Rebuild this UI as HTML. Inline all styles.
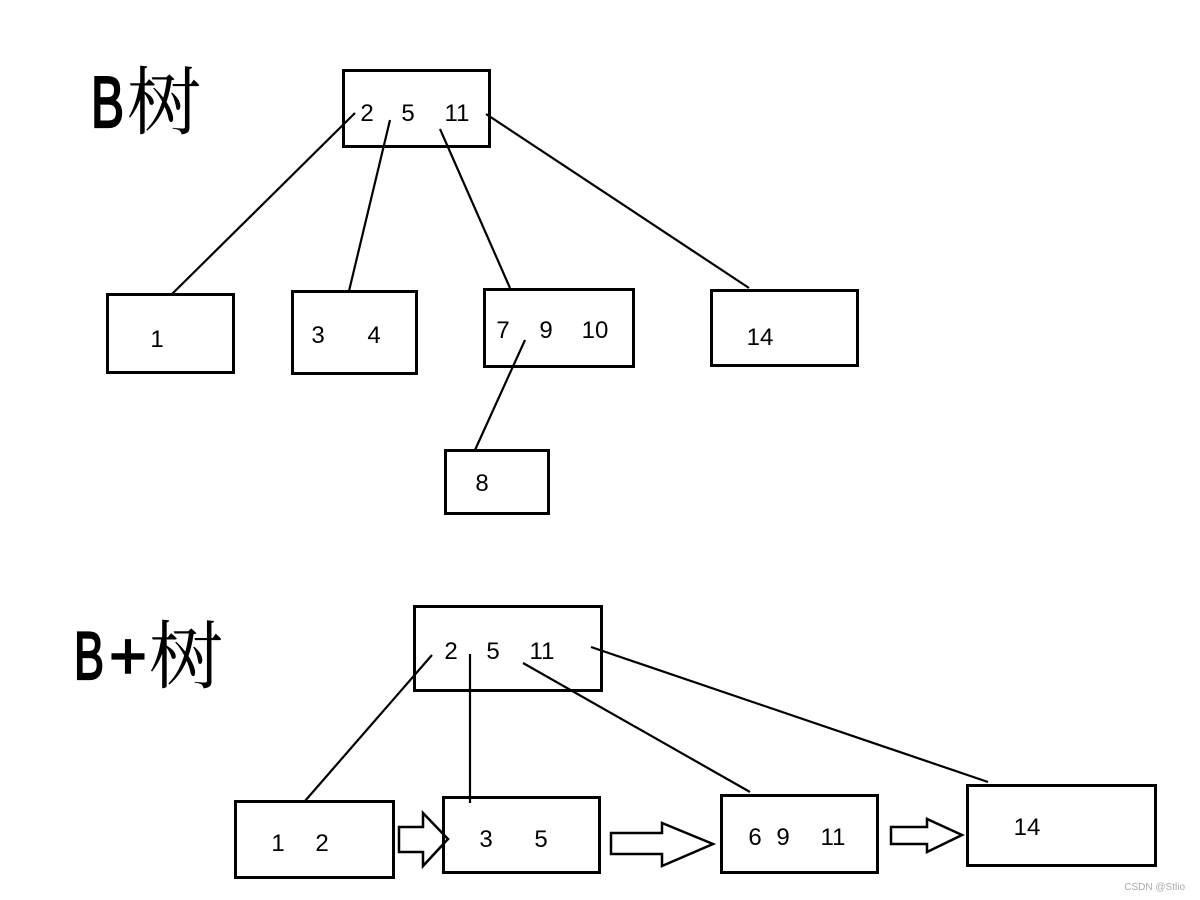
<!DOCTYPE html>
<html><head><meta charset="utf-8"><style>
html,body{margin:0;padding:0;background:#fff;}
svg{display:block;}
.n{font-family:"Liberation Sans",Arial,sans-serif;font-size:24px;fill:#000;text-anchor:middle;}
</style></head><body>
<svg width="1200" height="900" viewBox="0 0 1200 900" xmlns="http://www.w3.org/2000/svg">
<rect width="1200" height="900" fill="#fff"/>
<!-- Titles -->
<text x="91" y="127" font-family="Liberation Sans, sans-serif" font-size="72" textLength="33" lengthAdjust="spacingAndGlyphs" stroke="#000" stroke-width="2.2">B</text>
<text x="127" y="128" font-family="Noto Serif CJK SC, serif" font-size="74">树</text>
<text x="74" y="679" font-family="Liberation Sans, sans-serif" font-size="68" textLength="30" lengthAdjust="spacingAndGlyphs" stroke="#000" stroke-width="2.2">B</text>
<text x="109" y="679" font-family="Liberation Sans, sans-serif" font-size="68" textLength="38" lengthAdjust="spacingAndGlyphs" stroke="#000" stroke-width="1.5">+</text>
<text x="149" y="682" font-family="Noto Serif CJK SC, serif" font-size="74">树</text>

<g fill="none" stroke="#000" stroke-width="3">
<!-- B tree boxes -->
<rect x="343.5" y="70.5" width="146" height="76"/>
<rect x="107.5" y="294.5" width="126" height="78"/>
<rect x="292.5" y="291.5" width="124" height="82"/>
<rect x="484.5" y="289.5" width="149" height="77"/>
<rect x="711.5" y="290.5" width="146" height="75"/>
<rect x="445.5" y="450.5" width="103" height="63"/>
<!-- B+ tree boxes -->
<rect x="414.5" y="606.5" width="187" height="84"/>
<rect x="235.5" y="801.5" width="158" height="76"/>
<rect x="443.5" y="797.5" width="156" height="75"/>
<rect x="721.5" y="795.5" width="156" height="77"/>
<rect x="967.5" y="785.5" width="188" height="80"/>
<!-- arrows -->
<polygon points="399,827 423,827 423,813 448,839 423,866 423,852 399,852" stroke-width="2.5"/>
<polygon points="611,833 662,833 662,823 713,844 662,866 662,854 611,854" stroke-width="2.5"/>
<polygon points="891,827 927,827 927,819 962,835 927,852 927,844 891,844" stroke-width="2.5"/>
</g>

<g stroke="#000" stroke-width="2.2" fill="none">
<line x1="355" y1="113" x2="172" y2="294"/>
<line x1="390" y1="120" x2="349" y2="291"/>
<line x1="440" y1="129" x2="510" y2="288"/>
<line x1="486" y1="114" x2="749" y2="288"/>
<line x1="525" y1="340" x2="475" y2="450"/>
<line x1="432" y1="655" x2="305" y2="801"/>
<line x1="470" y1="654" x2="470" y2="803"/>
<line x1="523" y1="663" x2="750" y2="792"/>
<line x1="591" y1="647" x2="988" y2="782"/>
</g>

<!-- B tree numbers -->
<text class="n" x="367" y="121">2</text>
<text class="n" x="408" y="121">5</text>
<text class="n" x="457" y="121">11</text>
<text class="n" x="157" y="347">1</text>
<text class="n" x="318" y="343">3</text>
<text class="n" x="374" y="343">4</text>
<text class="n" x="503" y="338">7</text>
<text class="n" x="546" y="338">9</text>
<text class="n" x="595" y="338">10</text>
<text class="n" x="760" y="345">14</text>
<text class="n" x="482" y="491">8</text>
<!-- B+ tree numbers -->
<text class="n" x="451" y="659">2</text>
<text class="n" x="493" y="659">5</text>
<text class="n" x="542" y="659">11</text>
<text class="n" x="278" y="851">1</text>
<text class="n" x="322" y="851">2</text>
<text class="n" x="486" y="847">3</text>
<text class="n" x="541" y="847">5</text>
<text class="n" x="755" y="845">6</text>
<text class="n" x="783" y="845">9</text>
<text class="n" x="833" y="845">11</text>
<text class="n" x="1027" y="835">14</text>
<text x="1185" y="890" font-family="Liberation Sans, sans-serif" font-size="10" fill="#aaa" text-anchor="end">CSDN @Stlio</text>
</svg>
</body></html>
